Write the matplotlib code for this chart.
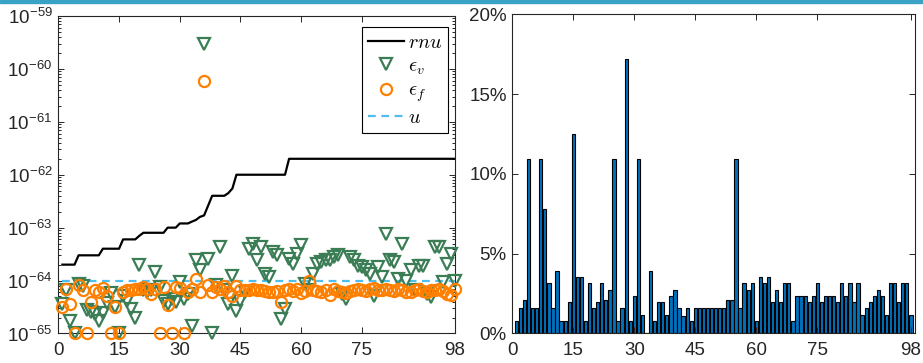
import matplotlib
matplotlib.use('Agg')
import matplotlib.pyplot as plt
from matplotlib.patches import Rectangle
from matplotlib.ticker import LogLocator, NullFormatter, PercentFormatter, FixedLocator
import numpy as np

plt.rcParams['font.family'] = ['Liberation Sans', 'DejaVu Sans']
plt.rcParams['mathtext.fontset'] = 'cm'

# data
idx = np.arange(1, 99)

rnu = ([2e-64] * 4 + [3e-64] * 6 + [4e-64] * 5 + [6e-64] * 4 + [7e-64] + [8e-64] * 6
       + [1e-63] * 3 + [1.2e-63] * 3 + [1.3e-63, 1.4e-63, 1.6e-63, 1.7e-63, 2.6e-63]
       + [4e-63] * 4 + [4.5e-63, 5.5e-63] + [1e-62] * 13 + [2e-62] * 42)

u = [1e-64] * 98

eps_v = [3.6e-65, 6.6e-65, 1.7e-65, 1.0e-65, 8.5e-65, 7.9e-65, 2.8e-65, 2.5e-65, 2.3e-65, 1.7e-65,
         2.4e-65, 3.8e-65, 5.8e-65, 3.2e-65, 1.0e-65, 5.2e-65, 4.2e-65, 2.9e-65, 2.0e-65, 2.0e-64,
         6.5e-65, 6.0e-65, 6.5e-65, 1.45e-64, 7.4e-65, 4.2e-65, 3.6e-65, 4.5e-65, 3.9e-65, 9.3e-65,
         4.5e-65, 5.6e-65, 1.4e-65, 2.4e-64, 1.55e-64, 3.0e-60, 2.6e-64, 1.0e-65, 8.1e-65, 4.3e-64,
         6.5e-65, 3.6e-65, 1.23e-64, 2.7e-65, 4.2e-65, 6.0e-65, 4.0e-64, 4.9e-64, 2.4e-64, 4.3e-64,
         1.35e-64, 1.15e-64, 3.5e-64, 3.0e-64, 1.9e-65, 2.9e-65, 2.6e-64, 2.1e-64, 3.2e-64, 4.6e-64,
         8.7e-65, 6.5e-65, 1.35e-64, 2.1e-64, 2.2e-64, 2.4e-64, 2.4e-64, 2.75e-64, 3.0e-64, 5.6e-65,
         4.5e-65, 2.75e-64, 2.4e-64, 1.9e-64, 1.8e-64, 1.55e-64, 1.35e-64, 5.2e-65, 1.8e-64, 1.15e-64,
         7.6e-64, 2.4e-64, 2.2e-64, 1.07e-64, 4.9e-64, 1.0e-64, 1.55e-64, 6.5e-65, 1.9e-64, 1.9e-64,
         5.6e-65, 4.8e-65, 4.3e-64, 4.3e-64, 9.3e-65, 2.1e-64, 3.2e-64, 1.0e-64]

eps_f = [3.2e-65, 6.9e-65, 3.6e-65, 1.0e-65, 8.3e-65, 6.6e-65, 1.0e-65, 3.9e-65, 6.6e-65, 6.0e-65,
         7.2e-65, 5.0e-65, 1.0e-65, 3.2e-65, 1.0e-65, 6.0e-65, 6.5e-65, 6.6e-65, 6.8e-65, 6.9e-65,
         7.4e-65, 6.9e-65, 5.6e-65, 6.9e-65, 1.0e-65, 7.4e-65, 3.4e-65, 1.0e-65, 7.4e-65, 7.2e-65,
         1.0e-65, 6.0e-65, 6.9e-65, 1.07e-64, 6.2e-65, 5.9e-61, 8.3e-65, 6.0e-65, 7.4e-65, 6.9e-65,
         7.9e-65, 6.2e-65, 5.0e-65, 7.8e-65, 6.5e-65, 6.6e-65, 6.6e-65, 6.8e-65, 6.6e-65, 6.5e-65,
         6.3e-65, 6.2e-65, 6.0e-65, 6.3e-65, 4.0e-65, 6.5e-65, 6.9e-65, 6.3e-65, 6.8e-65, 5.8e-65,
         6.3e-65, 9.8e-65, 6.6e-65, 6.3e-65, 6.0e-65, 6.5e-65, 5.4e-65, 6.9e-65, 6.3e-65, 6.0e-65,
         5.8e-65, 6.3e-65, 6.6e-65, 6.9e-65, 6.5e-65, 6.3e-65, 6.8e-65, 7.2e-65, 6.6e-65, 6.5e-65,
         6.9e-65, 6.6e-65, 6.3e-65, 6.8e-65, 6.5e-65, 6.2e-65, 6.0e-65, 6.6e-65, 6.9e-65, 6.3e-65,
         6.0e-65, 6.5e-65, 6.6e-65, 6.9e-65, 6.3e-65, 5.6e-65, 5.4e-65, 6.8e-65]

share = [0.78, 1.56, 2.1, 10.9, 1.56, 1.56, 10.9, 7.8, 3.13, 1.56,
         3.91, 0.78, 0.78, 1.95, 12.5, 3.52, 3.52, 0.78, 3.13, 1.56,
         1.95, 3.13, 2.1, 2.73, 10.9, 0.78, 1.56, 17.2, 0.78, 2.34,
         10.9, 1.17, 0.0, 3.91, 0.78, 1.95, 1.95, 1.17, 2.34, 2.73,
         1.56, 1.05, 1.56, 0.78, 1.56, 1.56, 1.56, 1.56, 1.56, 1.56,
         1.56, 1.56, 2.1, 2.1, 10.9, 1.56, 3.13, 2.73, 3.13, 0.78,
         3.52, 3.13, 3.52, 1.95, 2.73, 1.95, 3.13, 3.13, 0.78, 2.34,
         2.34, 2.34, 1.95, 2.34, 3.13, 1.95, 2.34, 2.34, 2.34, 1.95,
         3.13, 2.34, 3.13, 1.95, 3.13, 1.17, 1.56, 1.95, 2.34, 2.73,
         2.34, 1.17, 3.13, 3.13, 1.95, 3.13, 3.13, 1.17]

xticks = [0, 15, 30, 45, 60, 75, 98]
axcol = '#262626'

fig = plt.figure(figsize=(9.23, 3.63), dpi=100)
fig.patches.append(Rectangle((0, 1 - 3 / 363), 1, 3 / 363, transform=fig.transFigure,
                             color='#3aa3c5', zorder=0))

# left panel
ax1 = fig.add_axes([0.0632, 0.0813, 0.4298, 0.8747])
ax1.plot(idx, rnu, color='k', lw=1.6, label='$rnu$')
ax1.plot(idx, eps_v, ls='none', marker='v', ms=8.5, mfc='none', mec='#3b7d55', mew=1.6,
         label=r'$\epsilon_v$', clip_on=False, zorder=3)
ax1.plot(idx, eps_f, ls='none', marker='o', ms=8, mfc='none', mec='#ff8000', mew=1.6,
         label=r'$\epsilon_f$', clip_on=False, zorder=3)
ax1.plot(idx, u, color='#4dbeee', lw=1.6, ls=(0, (3.5, 2.5)), label='$u$')
ax1.set_yscale('log')
ax1.set_xlim(0, 98)
ax1.set_ylim(1e-65, 1e-59)
ax1.yaxis.set_major_locator(FixedLocator([10.0 ** e for e in range(-65, -58)]))
ax1.set_yticklabels(['10$^{\\mathregular{%d}}$' % e for e in range(-65, -58)])
ax1.yaxis.set_minor_locator(LogLocator(base=10, subs=np.arange(2, 10), numticks=20))
ax1.yaxis.set_minor_formatter(NullFormatter())
leg = ax1.legend(loc='upper right', bbox_to_anchor=(0.982, 0.965), borderaxespad=0,
                 fontsize=14.5, fancybox=False, framealpha=1, edgecolor='k',
                 handlelength=1.75, handletextpad=0.2, borderpad=0.3, labelspacing=0.2)
leg.get_frame().set_linewidth(0.8)

# right panel
ax2 = fig.add_axes([0.555, 0.0821, 0.4363, 0.878])
ax2.bar(idx, share, width=0.8, color='#0072bd', edgecolor='k', linewidth=0.8)
ax2.set_xlim(0, 99)
ax2.set_ylim(0, 20)
ax2.set_yticks([0, 5, 10, 15, 20])
ax2.yaxis.set_major_formatter(PercentFormatter(xmax=100, decimals=0))

for ax in (ax1, ax2):
    ax.set_xticks(xticks)
    ax.tick_params(which='both', direction='in', top=True, right=True, colors=axcol,
                   labelsize=13.5, width=0.7)
    ax.tick_params(which='major', length=4)
    ax.tick_params(which='minor', length=2)
    ax.tick_params(axis='x', pad=6)
    ax.tick_params(axis='y', pad=4)
    for s in ax.spines.values():
        s.set_color(axcol)
        s.set_linewidth(0.8)

fig.savefig('out.png', dpi=100)
